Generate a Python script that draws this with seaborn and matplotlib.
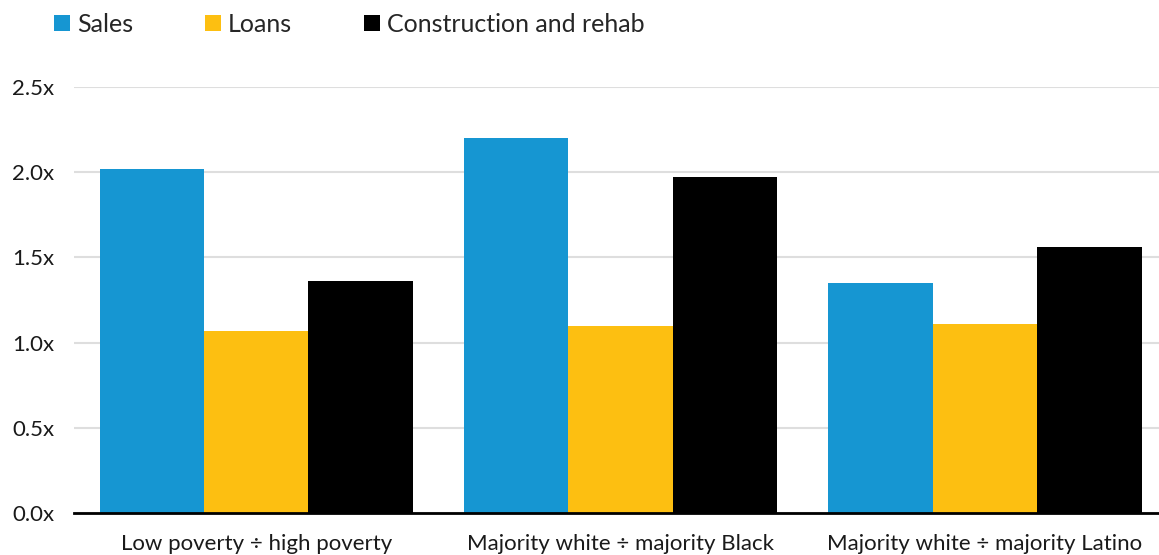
import matplotlib
matplotlib.use("Agg")
import matplotlib.pyplot as plt
import seaborn as sns
import pandas as pd
from matplotlib.patches import Patch

categories = ["Low poverty ÷ high poverty", "Majority white ÷ majority Black", "Majority white ÷ majority Latino"]
series = ["Sales", "Loans", "Construction and rehab"]
sales = [2.02, 2.20, 1.35]
loans = [1.07, 1.10, 1.11]
construction = [1.36, 1.97, 1.56]
yticks = [0.0, 0.5, 1.0, 1.5, 2.0, 2.5]
colors = ["#1696D2", "#FDBF11", "#000000"]

rows = []
for s, vals in zip(series, [sales, loans, construction]):
    for c, v in zip(categories, vals):
        rows.append({"category": c, "series": s, "value": v})
df = pd.DataFrame(rows)

sns.set_theme(style="white")
plt.rcParams['font.family'] = ['Lato', 'DejaVu Sans']

fig = plt.figure(figsize=(11.59, 5.55), dpi=100)
W, H = 1159, 555
ax = fig.add_axes([74 / W, (H - 513) / H, (W - 74) / W, (513 - 87) / H])

sns.barplot(data=df, x="category", y="value", hue="series", hue_order=series,
            palette=colors, width=0.86, saturation=1, ax=ax, legend=False,
            edgecolor="none", linewidth=0)

ax.set_xlim(-0.5, 2.5 - 8 / 364)
ax.set_ylim(0, 2.5)
ax.set_yticks(yticks)
ax.set_yticklabels([f"{t:.1f}x" for t in yticks], fontsize=16, color="#1a1a1a")
ax.tick_params(axis="x", labelsize=16, colors="#1a1a1a", length=0, pad=15)
ax.tick_params(axis="y", length=0, pad=14)
ax.set_xlabel("")
ax.set_ylabel("")
ax.yaxis.grid(True, color="#DEDEDE", linewidth=1.5)
ax.set_axisbelow(True)
for side in ["top", "right", "left"]:
    ax.spines[side].set_visible(False)
ax.spines["bottom"].set_color("black")
ax.spines["bottom"].set_linewidth(2)
ax.spines["bottom"].set_zorder(5)

handles = [Patch(facecolor=c, edgecolor="none", label=s) for c, s in zip(colors, series)]
fig.legend(handles=handles, loc="upper left", bbox_to_anchor=(44 / W, 1 - 3 / H), ncol=3,
           frameon=False, fontsize=18, handlelength=0.62, handleheight=0.62,
           handletextpad=0.3, columnspacing=2.88, borderaxespad=0)

fig.savefig("out.png", dpi=100)
